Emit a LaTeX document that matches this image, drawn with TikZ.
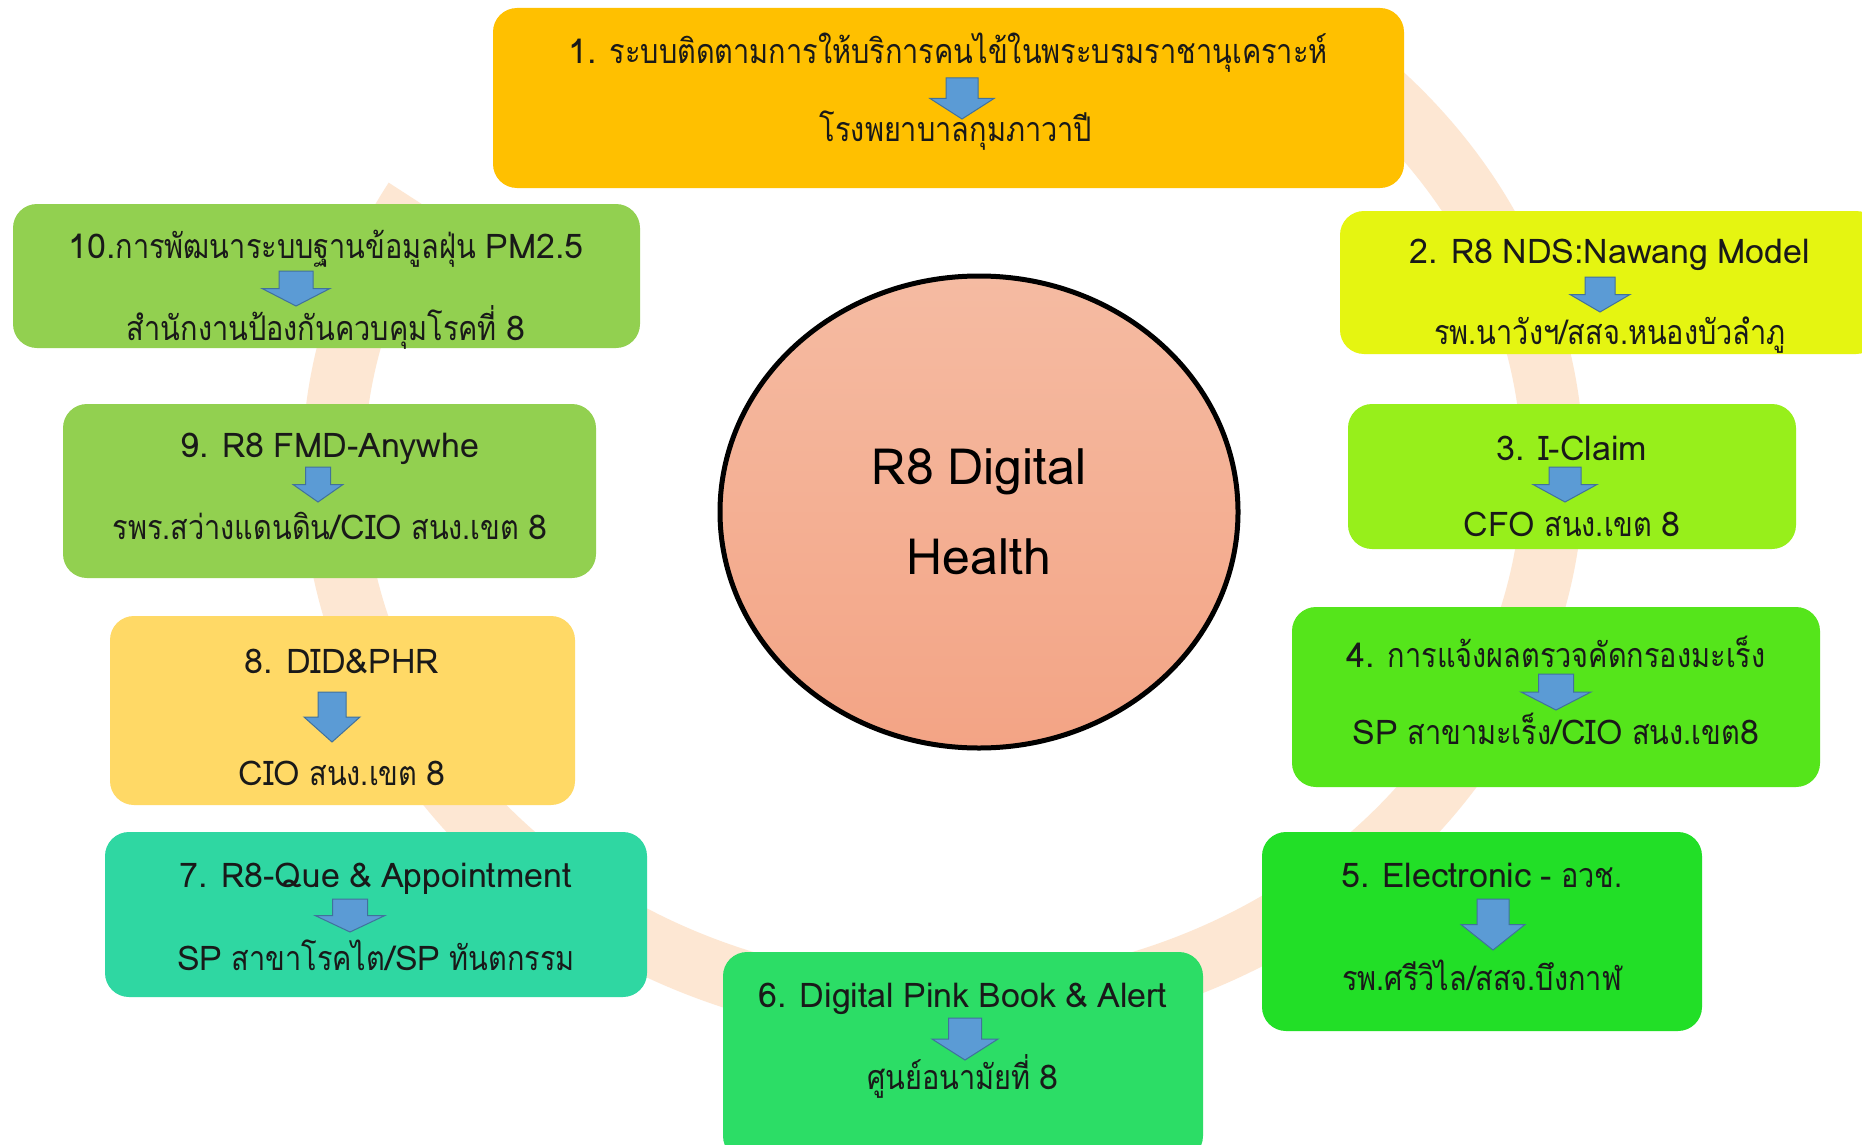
\documentclass[tikz,border=0pt]{standalone}
\usepackage{fontspec}
\setmainfont[Script=Thai,WordSpace=0.8]{Loma}
\newfontfamily\thaifont[Script=Thai,FakeStretch=0.85,WordSpace=0.8]{Loma}
\usepackage{tikz}
\usetikzlibrary{calc,shapes.geometric}
\definecolor{ringpeach}{HTML}{FDE7D3}
\definecolor{boxone}{HTML}{FFC000}
\definecolor{boxtwo}{HTML}{E5F511}
\definecolor{boxthree}{HTML}{97EF1B}
\definecolor{boxfour}{HTML}{55E51B}
\definecolor{boxfive}{HTML}{22DF27}
\definecolor{boxsix}{HTML}{2CDD66}
\definecolor{boxseven}{HTML}{2FD7A2}
\definecolor{boxeight}{HTML}{FFD966}
\definecolor{boxnine}{HTML}{92D050}
\definecolor{arrowblue}{HTML}{5B9BD5}
\definecolor{arrowedge}{HTML}{41719C}
\definecolor{hubtop}{HTML}{F5BBA2}
\definecolor{hubbottom}{HTML}{F3A485}
\tikzstyle{taskbox}=[rectangle,rounded corners=24pt,draw=none,inner sep=0pt]
\tikzstyle{tasktext}=[font=\fontsize{34}{40}\selectfont,text=black!90,inner sep=0pt]
\tikzstyle{hub}=[ellipse,draw=black,line width=5pt,inner sep=0pt,
                 top color=hubtop,bottom color=hubbottom,
                 font=\fontsize{50}{90}\selectfont,align=center]
\tikzstyle{bluearrow}=[fill=arrowblue,draw=arrowedge,line width=1pt,line join=miter]
\newcommand\thai[1]{{\thaifont #1}}
% #1 x, #2 top, #3 tip, #4 half width of head
\newcommand\flowarrow[4]{
    \pgfmathsetmacro\shaftw{#4/2}
    \pgfmathsetmacro\neck{(#2+#3)/2}
    \draw[bluearrow] (#1-\shaftw,#2) -- (#1+\shaftw,#2) -- (#1+\shaftw,\neck)
        -- (#1+#4,\neck) -- (#1,#3) -- (#1-#4,\neck) -- (#1-\shaftw,\neck) -- cycle;
}
\begin{document}
\begin{tikzpicture}[x=1pt,y=-1pt]
    \useasboundingbox (0,0) rectangle (1862,1145);
    \fill[white] (0,0) rectangle (1862,1145);
    \clip (0,0) rectangle (1862,1145);
    \draw[ringpeach,line width=62pt] (943,470) ++(-50:610 and 541)
        arc[start angle=-50,end angle=210,x radius=610,y radius=541];

    \node [hub,minimum width=518pt,minimum height=472pt] (hub) at (979,512)
        {R8 Digital\\Health};

    \node [taskbox,fill=boxone,minimum width=911pt,minimum height=180pt] (task1) at (948.5,98) {};
    \node [tasktext] (task1top) at (948,53) {1. \thai{ระบบติดตามการให้บริการคนไข้ในพระบรมราชานุเคราะห์}};
    \node [tasktext] (task1bot) at (956,131) {\thai{โรงพยาบาลกุมภาวาปี}};
    \flowarrow{962}{78}{119}{32}

    \node [taskbox,fill=boxtwo,minimum width=540pt,minimum height=143pt] (task2) at (1610,282.5) {};
    \node [tasktext] (task2top) at (1610,255) {2. R8 NDS:Nawang Model};
    \node [tasktext] (task2bot) at (1610,335) {\thai{รพ.นาวังฯ/สสจ.หนองบัวลำภู}};
    \flowarrow{1600}{277}{312}{30}

    \node [taskbox,fill=boxthree,minimum width=448pt,minimum height=145pt] (task3) at (1572,476.5) {};
    \node [tasktext] (task3top) at (1572,448) {3. I-Claim};
    \node [tasktext] (task3bot) at (1572,524) {CFO \thai{สนง.เขต} 8};
    \flowarrow{1565}{467}{502}{32}

    \node [taskbox,fill=boxfour,minimum width=528pt,minimum height=180pt] (task4) at (1556,697) {};
    \node [tasktext] (task4top) at (1556,652) {4. \thai{การแจ้งผลตรวจคัดกรองมะเร็ง}};
    \node [tasktext] (task4bot) at (1556,729) {SP \thai{สาขามะเร็ง}/CIO \thai{สนง.เขต}8};
    \flowarrow{1556}{674}{710}{35}

    \node [taskbox,fill=boxfive,minimum width=440pt,minimum height=199pt] (task5) at (1482,931.5) {};
    \node [tasktext] (task5top) at (1482,875) {5. Electronic - \thai{อวช.}};
    \node [tasktext] (task5bot) at (1482,975) {\thai{รพ.ศรีวิไล/สสจ.บึงกาฬ}};
    \flowarrow{1493}{899}{950}{32}

    \node [taskbox,fill=boxsix,minimum width=480pt,minimum height=208pt] (task6) at (963,1056) {};
    \node [tasktext] (task6top) at (963,999) {6. Digital Pink Book \& Alert};
    \node [tasktext] (task6bot) at (963,1076) {\thai{ศูนย์อนามัยที่} 8};
    \flowarrow{965}{1018}{1060}{33}

    \node [taskbox,fill=boxseven,minimum width=542pt,minimum height=165pt] (task7) at (376,914.5) {};
    \node [tasktext] (task7top) at (376,879) {7. R8-Que \& Appointment};
    \node [tasktext] (task7bot) at (376,955) {SP \thai{สาขาโรคไต}/SP \thai{ทันตกรรม}};
    \flowarrow{350}{899}{932}{35}

    \node [taskbox,fill=boxeight,minimum width=465pt,minimum height=189pt] (task8) at (342.5,710.5) {};
    \node [tasktext] (task8top) at (342,661) {8. DID\&PHR};
    \node [tasktext] (task8bot) at (342,773) {CIO \thai{สนง.เขต} 8};
    \flowarrow{332}{692}{742}{28}

    \node [taskbox,fill=boxnine,minimum width=533pt,minimum height=174pt] (task9) at (329.5,491) {};
    \node [tasktext] (task9top) at (330,449) {9. R8 FMD-Anywhe};
    \node [tasktext] (task9bot) at (330,526) {\thai{รพร.สว่างแดนดิน}/CIO \thai{สนง.เขต} 8};
    \flowarrow{318}{467}{502}{25}

    \node [taskbox,fill=boxnine,minimum width=627pt,minimum height=144pt] (task10) at (326.5,276) {};
    \node [tasktext] (task10top) at (326,249) {10.\thai{การพัฒนาระบบฐานข้อมูลฝุ่น} PM2.5};
    \node [tasktext] (task10bot) at (326,327) {\thai{สำนักงานป้องกันควบคุมโรคที่} 8};
    \flowarrow{296}{271}{306}{34}
\end{tikzpicture}
\end{document}
